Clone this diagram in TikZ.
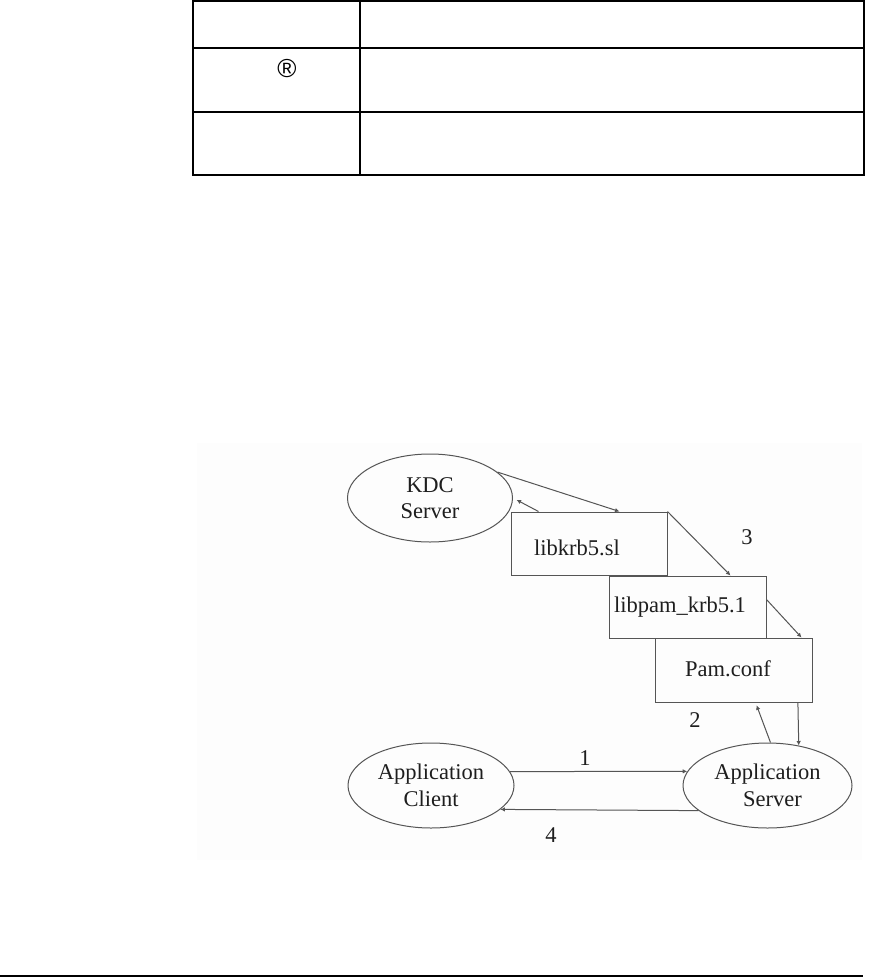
\documentclass[tikz,border=0pt]{standalone}
\usepackage{fontspec}
\setmainfont{Liberation Serif}
\newfontfamily\symfont{Liberation Sans}
\usetikzlibrary{shapes.geometric,arrows.meta,calc}
\definecolor{lin}{RGB}{85,85,85}
\definecolor{txt}{RGB}{30,30,30}
\definecolor{bgd}{RGB}{253,253,253}
\tikzset{
  oval/.style={ellipse,draw=lin,line width=1pt,inner sep=0pt,text=txt,align=center,
    font=\fontsize{22.5}{26.5}\selectfont},
  filebox/.style={rectangle,draw=lin,line width=1pt,inner sep=0pt},
  lbl/.style={text=txt,inner sep=0pt,font=\fontsize{22.5}{26.5}\selectfont},
  conn/.style={draw=lin,line width=1pt},
  arr/.style={conn,-{Latex[length=4.5pt,width=4.5pt]}},
  tline/.style={line width=1.3pt,black}
}
\begin{document}
\begin{tikzpicture}[x=1pt,y=-1pt]
\useasboundingbox (0,0) rectangle (872,977);
\fill[white] (0,0) rectangle (872,977);
% table
\draw[tline] (193,1) rectangle (864,175);
\draw[tline] (360,1) -- (360,175);
\draw[tline] (193,48) -- (864,48);
\draw[tline] (193,112) -- (864,112);
\node[inner sep=0pt,font=\symfont\fontsize{26}{26}\selectfont] (reg) at (287,69) {®};
% diagram background
\fill[bgd] (197,443) rectangle (862,860);
% nodes
\node[oval,minimum width=165pt,minimum height=88pt] (kdc) at (430,498) {KDC\\Server};
\node[filebox,minimum width=156pt,minimum height=63pt] (krb) at (589,543.5) {};
\node[filebox,minimum width=157pt,minimum height=62pt] (pamlib) at (687.5,607) {};
\node[filebox,minimum width=157pt,minimum height=64pt] (conf) at (733.5,670) {};
\node[oval,minimum width=166pt,minimum height=85pt] (client) at (431,785.5) {Application\\Client};
\node[oval,minimum width=169pt,minimum height=85pt] (server) at (767.5,785.5) {Application\\\hspace*{10pt}Server};
% box texts
\node[lbl] (krbt) at (577,548) {libkrb5.sl};
\node[lbl] (pamlibt) at (680,607) {libpam\_krb5.1};
\node[lbl] (conft) at (728,669) {Pam.conf};
% numbers
\node[lbl] (n1) at (585,758) {1};
\node[lbl] (n2) at (695,720) {2};
\node[lbl] (n3) at (747,537) {3};
\node[lbl] (n4) at (551,835) {4};
% connectors
\draw[arr] (kdc.21) -- ($(krb.north west)+(109,0)$);
\draw[arr,shorten >=4pt] ($(krb.north west)+(28,0)$) -- (kdc.east);
\draw[arr] (krb.north east) -- ($(pamlib.north west)+(122,0)$);
\draw[arr] ($(pamlib.north east)+(0,24)$) -- ($(conf.north west)+(147,0)$);
\draw[arr] ($(conf.south west)+(143.4,0)$) -- (server.52);
\draw[arr,shorten >=3pt] (server.86) -- ($(conf.south west)+(101,0)$);
\draw[arr] (client.10) -- (server.170);
\draw[arr] (server.200) -- (client.-19);
% bottom rule
\draw[line width=2pt,black] (0,976) -- (863,976);
\end{tikzpicture}
\end{document}
